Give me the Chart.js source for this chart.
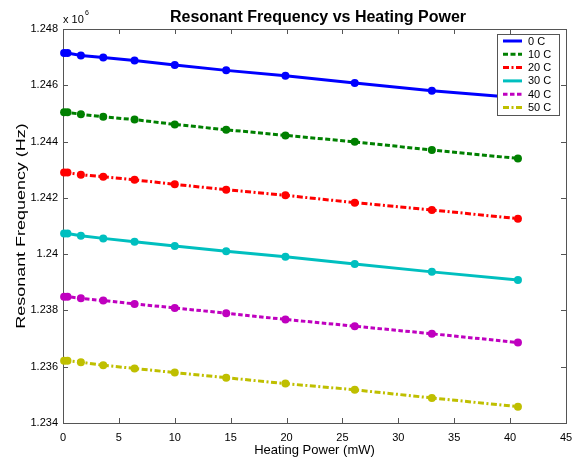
<!DOCTYPE html>
<html>
<head>
<meta charset="utf-8">
<script src="https://cdn.jsdelivr.net/npm/chart.js@4"></script>
<style>
html,body{margin:0;padding:0;background:#fff;}
#c{display:block;}
</style>
</head>
<body>
<canvas id="c" width="574" height="461"></canvas>
<script>
// ---- data (frequency in units of 1e6 Hz) ----
const heatingPower = [0.1, 0.4, 1.6, 3.6, 6.4, 10.0, 14.6, 19.9, 26.1, 33.0, 40.7];
const seriesLabels = ['0 C', '10 C', '20 C', '30 C', '40 C', '50 C'];
const freq0C  = [1.24715, 1.24715, 1.24706, 1.24699, 1.24688, 1.24672, 1.24653, 1.24634, 1.24608, 1.24581, 1.24556];
const freq10C = [1.24504, 1.24504, 1.24497, 1.24488, 1.24478, 1.24461, 1.24442, 1.24422, 1.24399, 1.24370, 1.24340];
const freq20C = [1.24290, 1.24290, 1.24282, 1.24275, 1.24264, 1.24248, 1.24229, 1.24209, 1.24183, 1.24157, 1.24126];
const freq30C = [1.24073, 1.24073, 1.24065, 1.24056, 1.24044, 1.24029, 1.24010, 1.23991, 1.23965, 1.23937, 1.23908];
const freq40C = [1.23849, 1.23849, 1.23843, 1.23835, 1.23823, 1.23809, 1.23790, 1.23768, 1.23744, 1.23717, 1.23686];
const freq50C = [1.23621, 1.23621, 1.23616, 1.23605, 1.23594, 1.23579, 1.23561, 1.23540, 1.23518, 1.23489, 1.23458];
const xTickValues = [0, 5, 10, 15, 20, 25, 30, 35, 40, 45];
const xTickLabels = ['0', '5', '10', '15', '20', '25', '30', '35', '40', '45'];
const yTickValues = [1.234, 1.236, 1.238, 1.240, 1.242, 1.244, 1.246, 1.248];
const yTickLabels = ['1.234', '1.236', '1.238', '1.24', '1.242', '1.244', '1.246', '1.248'];

const allSeries = [freq0C, freq10C, freq20C, freq30C, freq40C, freq50C];
const colors = ['#0000ff', '#008000', '#ff0000', '#00bfbf', '#bf00bf', '#bfbf00'];
const dashes = [[], [5, 2.5], [6, 2.5, 2, 2.5], [], [4.5, 2.5], [6, 2.5, 2, 2.5]];

const FONT = '"Liberation Sans", Arial, Helvetica, sans-serif';

const datasets = allSeries.map((s, i) => ({
  label: seriesLabels[i],
  data: s.map((v, k) => ({x: heatingPower[k], y: v})),
  borderColor: colors[i],
  backgroundColor: colors[i],
  pointBackgroundColor: colors[i],
  pointBorderColor: colors[i],
  borderWidth: 3,
  borderDash: dashes[i],
  pointRadius: 4,
  pointBorderWidth: 0,
  pointHoverRadius: 4,
  tension: 0,
  fill: false,
  clip: 8
}));

const AXIS_COLOR = '#555555';

const decorPlugin = {
  id: 'decor',
  beforeDatasetsDraw(chart) {
    const {ctx, chartArea: a, scales} = chart;
    ctx.save();
    ctx.strokeStyle = AXIS_COLOR;
    ctx.lineWidth = 1;
    ctx.strokeRect(Math.round(a.left) + 0.5, Math.round(a.top) + 0.5,
      Math.round(a.right - a.left), Math.round(a.bottom - a.top));
    const L = 5;
    ctx.beginPath();
    xTickValues.forEach(v => {
      const px = Math.round(scales.x.getPixelForValue(v)) + 0.5;
      ctx.moveTo(px, a.bottom); ctx.lineTo(px, a.bottom - L);
      ctx.moveTo(px, a.top); ctx.lineTo(px, a.top + L);
    });
    yTickValues.forEach(v => {
      const py = Math.round(scales.y.getPixelForValue(v)) + 0.5;
      ctx.moveTo(a.left, py); ctx.lineTo(a.left + L, py);
      ctx.moveTo(a.right, py); ctx.lineTo(a.right - L, py);
    });
    ctx.stroke();
    ctx.restore();
  },
  afterDraw(chart) {
    const {ctx, chartArea: a} = chart;
    ctx.save();
    ctx.fillStyle = '#000';
    ctx.font = 'bold 16px ' + FONT;
    ctx.textAlign = 'center';
    ctx.textBaseline = 'alphabetic';
    ctx.fillText('Resonant Frequency vs Heating Power', 318, 22);
    ctx.font = '13px ' + FONT;
    ctx.fillText('Heating Power (mW)', (a.left + a.right) / 2, 454);
    ctx.save();
    ctx.translate(25, (a.top + a.bottom) / 2);
    ctx.rotate(-Math.PI / 2);
    ctx.scale(1.38, 1);
    ctx.fillText('Resonant Frequency (Hz)', 0, 0);
    ctx.restore();
    ctx.textAlign = 'left';
    ctx.font = '11px ' + FONT;
    ctx.fillText('x 10', a.left, 23);
    ctx.font = '7px ' + FONT;
    ctx.fillText('6', a.left + 22, 15);
    const lx = 497, ly = 34, lw = 62, lh = 81;
    ctx.fillStyle = '#fff';
    ctx.fillRect(lx, ly, lw, lh);
    ctx.strokeStyle = AXIS_COLOR;
    ctx.lineWidth = 1;
    ctx.strokeRect(lx + 0.5, ly + 0.5, lw, lh);
    chart.data.datasets.forEach((d, i) => {
      const cy = 41 + i * 13.3;
      ctx.strokeStyle = d.borderColor;
      ctx.lineWidth = 3;
      ctx.setLineDash(d.borderDash);
      ctx.beginPath();
      ctx.moveTo(503, cy); ctx.lineTo(522, cy);
      ctx.stroke();
      ctx.setLineDash([]);
      ctx.fillStyle = '#000';
      ctx.font = '11px ' + FONT;
      ctx.textBaseline = 'middle';
      ctx.fillText(d.label, 528, cy + 0.5);
    });
    ctx.restore();
  }
};

new Chart(document.getElementById('c'), {
  type: 'line',
  data: {datasets},
  options: {
    responsive: false,
    animation: false,
    events: [],
    layout: {padding: {top: 29, right: 8, left: 0, bottom: 0}},
    plugins: {legend: {display: false}, title: {display: false}, tooltip: {enabled: false}},
    scales: {
      x: {
        type: 'linear',
        min: 0, max: 45,
        border: {display: false},
        grid: {display: false, drawTicks: false},
        afterFit(s) { s.height = 38; s.paddingLeft = 0; s.paddingRight = 0; },
        afterBuildTicks(s) { s.ticks = xTickValues.map(v => ({value: v})); },
        ticks: {
          autoSkip: false, maxRotation: 0, padding: 8, color: '#000',
          font: {family: FONT, size: 11},
          callback: (v, i) => xTickLabels[i]
        }
      },
      y: {
        type: 'linear',
        min: 1.234, max: 1.248,
        border: {display: false},
        grid: {display: false, drawTicks: false},
        afterFit(s) { s.width = 63; s.paddingTop = 0; s.paddingBottom = 0; },
        afterBuildTicks(s) { s.ticks = yTickValues.map(v => ({value: v})); },
        ticks: {
          autoSkip: false, padding: 5, color: '#000',
          font: {family: FONT, size: 11},
          callback: (v, i) => yTickLabels[i]
        }
      }
    }
  },
  plugins: [decorPlugin]
});
</script>
</body>
</html>
